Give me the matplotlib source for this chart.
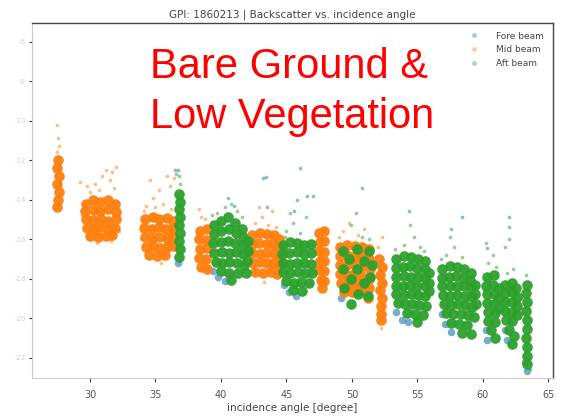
import matplotlib
matplotlib.use("Agg")
import matplotlib.pyplot as plt
from matplotlib.lines import Line2D

# backscatter (dB) vs incidence angle (deg), one list of (angle, sigma0) per beam
fore_core = [(36.75, -17.2), (39.4, -17.6), (39.8, -17.9), (40.3, -18.1), (44.8, -18.3),
             (45.2, -18.7), (45.7, -18.9), (49.2, -19.0), (53.4, -19.7), (53.8, -20.1),
             (54.3, -20.2), (56.9, -19.8), (57.1, -20.3), (57.6, -20.7), (60.2, -20.6),
             (60.3, -21.1), (61.7, -20.6), (61.8, -21.1), (63.25, -22.2), (63.35, -22.7)]
fore_stray = [(46.0, -12.4), (50.8, -13.4), (54.35, -14.6), (58.4, -14.9), (57.6, -15.5),
              (62.0, -14.9), (62.0, -15.4), (60.3, -16.45), (45.8, -14.0), (46.6, -13.8),
              (47.0, -13.8), (45.6, -14.6), (43.5, -14.4), (43.4, -12.85), (36.5, -12.5),
              (36.7, -12.5), (43.2, -12.9), (40.5, -13.9), (41.0, -14.3)]

mid_core = [
    # 27.5 deg
    (27.55, -12.0), (27.5, -12.4), (27.6, -12.8), (27.5, -13.2), (27.6, -13.6),
    (27.55, -14.0), (27.5, -14.4),
    # 29.5 - 32.2 deg
    (29.7, -14.2), (30.2, -14.0), (30.8, -14.1), (31.4, -14.0), (31.9, -14.2),
    (29.6, -14.6), (30.3, -14.55), (30.8, -14.6), (31.35, -14.5), (32.0, -14.65),
    (29.7, -15.0), (30.25, -15.05), (30.85, -15.0), (31.4, -15.1), (31.95, -15.0),
    (29.75, -15.45), (30.3, -15.5), (30.8, -15.4), (31.35, -15.5), (31.9, -15.45),
    (30.0, -15.85), (30.6, -15.9), (31.2, -15.85), (31.7, -15.8),
    # 34 - 36.5 deg
    (34.2, -15.0), (34.8, -14.9), (35.3, -15.0), (35.85, -14.95), (36.3, -15.1),
    (34.15, -15.45), (34.7, -15.5), (35.3, -15.4), (35.8, -15.5), (36.35, -15.45),
    (34.2, -15.9), (34.75, -15.95), (35.3, -15.9), (35.85, -15.95), (36.3, -15.9),
    (34.25, -16.4), (34.8, -16.35), (35.35, -16.45), (35.9, -16.4), (36.3, -16.35),
    (34.5, -16.8), (35.1, -16.85), (35.7, -16.8),
    # 38.2 - 39.2 deg
    (38.4, -15.6), (38.9, -15.5), (38.35, -16.0), (38.85, -16.05), (38.4, -16.5),
    (38.9, -16.45), (38.35, -16.95), (38.85, -17.0), (38.45, -17.4), (38.9, -17.5),
    # 42.2 - 44.5 deg
    (42.4, -15.8), (42.95, -15.7), (43.5, -15.75), (44.05, -15.8), (44.4, -16.0),
    (42.35, -16.25), (42.9, -16.2), (43.5, -16.25), (44.0, -16.2), (44.4, -16.4),
    (42.4, -16.7), (42.95, -16.75), (43.45, -16.7), (44.0, -16.7), (44.4, -16.85),
    (42.45, -17.2), (43.0, -17.15), (43.5, -17.2), (44.0, -17.2), (44.4, -17.3),
    (42.6, -17.65), (43.2, -17.7), (43.8, -17.65), (44.3, -17.75),
    # 47.3 - 48.1 deg
    (47.5, -15.7), (47.9, -15.6), (47.55, -16.15), (47.9, -16.1), (47.5, -16.6),
    (47.9, -16.65), (47.55, -17.1), (47.9, -17.1), (47.5, -17.55), (47.9, -17.6),
    (47.6, -18.05), (47.9, -18.1), (47.7, -18.5),
    # 49 - 51.8 deg
    (49.1, -16.4), (49.65, -16.3), (50.2, -16.35), (50.75, -16.4), (51.3, -16.5),
    (49.05, -16.85), (49.6, -16.8), (50.2, -16.85), (50.7, -16.8), (51.3, -17.0),
    (49.1, -17.3), (49.65, -17.3), (50.2, -17.25), (50.75, -17.35), (51.35, -17.5),
    (49.1, -17.75), (49.6, -17.8), (50.15, -17.75), (50.7, -17.8), (51.3, -18.0),
    (49.2, -18.2), (49.7, -18.25), (50.25, -18.2), (50.8, -18.25), (51.3, -18.5),
    (49.4, -18.7), (50.0, -18.7), (50.6, -18.65), (51.25, -19.0),
    # 52.2 deg
    (52.1, -17.0), (52.3, -17.4), (52.15, -17.8), (52.3, -18.2), (52.15, -18.6),
    (52.3, -19.0), (52.2, -19.4), (52.25, -19.8), (52.2, -20.1),
]
mid_stray = [(27.5, -10.2), (27.55, -10.9), (27.6, -11.3), (27.5, -11.6),
             (30.0, -13.6), (30.4, -13.2), (30.9, -12.8), (31.2, -12.5), (31.5, -13.0),
             (30.7, -13.5), (31.8, -13.4), (29.8, -13.3), (31.0, -13.9), (32.2, -15.6),
             (29.4, -14.8), (30.5, -16.2), (31.6, -16.1), (29.2, -13.1), (31.7, -12.6),
             (32.0, -12.35), (34.3, -14.3), (34.8, -13.9), (35.3, -13.5), (35.6, -14.2),
             (36.1, -13.3), (34.6, -13.0), (35.9, -12.8), (36.2, -14.5), (34.1, -14.6),
             (35.0, -14.4), (33.9, -16.0), (35.4, -17.2), (36.4, -12.9), (38.5, -14.9),
             (38.3, -14.5), (38.8, -15.0), (42.6, -15.2), (43.1, -14.9), (43.6, -15.3),
             (43.9, -14.6), (42.9, -14.4), (44.2, -15.4), (43.3, -18.15), (49.3, -15.6),
             (49.8, -15.2), (50.5, -15.8), (49.0, -15.9), (50.9, -15.5), (52.0, -16.4),
             (52.3, -15.9), (52.2, -20.5)]

aft_core = [
    # 36.8 deg
    (36.8, -13.7), (36.85, -14.1), (36.8, -14.5), (36.85, -14.9), (36.8, -15.3),
    (36.85, -15.7), (36.8, -16.1), (36.85, -16.5), (36.8, -16.9),
    # 39.2 - 42.2 deg
    (39.5, -15.3), (40.0, -15.1), (40.55, -14.9), (41.1, -15.2), (41.6, -15.5),
    (39.45, -15.75), (40.0, -15.6), (40.6, -15.5), (41.15, -15.7), (41.7, -15.9), (42.05, -16.1),
    (39.4, -16.2), (40.0, -16.15), (40.55, -16.1), (41.1, -16.2), (41.7, -16.3), (42.05, -16.6),
    (39.45, -16.7), (40.05, -16.65), (40.6, -16.7), (41.15, -16.65), (41.7, -16.75), (42.0, -17.1),
    (39.6, -17.15), (40.1, -17.2), (40.65, -17.15), (41.2, -17.2), (41.75, -17.3),
    (40.0, -17.6), (40.6, -17.7), (41.3, -17.7), (41.9, -17.7), (40.8, -18.05),
    # 44.5 - 47.3 deg
    (44.7, -16.3), (45.25, -16.15), (45.8, -16.2), (46.35, -16.3), (46.9, -16.25),
    (44.65, -16.75), (45.2, -16.7), (45.8, -16.65), (46.35, -16.75), (46.9, -16.7),
    (44.7, -17.2), (45.25, -17.25), (45.8, -17.2), (46.35, -17.2), (46.9, -17.25),
    (44.75, -17.65), (45.3, -17.7), (45.85, -17.65), (46.4, -17.7), (46.95, -17.7),
    (45.0, -18.1), (45.55, -18.2), (46.1, -18.15), (46.7, -18.2),
    (45.5, -18.6), (46.2, -18.65),
    # 49 - 51.7 deg
    (49.3, -16.6), (50.4, -16.5), (51.3, -16.6), (49.8, -17.0), (50.9, -17.1),
    (51.5, -17.3), (49.3, -17.5), (50.4, -17.5), (51.4, -17.9), (49.9, -18.0),
    (50.9, -18.2), (49.4, -18.5), (50.5, -18.8), (51.2, -18.9), (49.9, -19.3),
    # 53.1 - 56 deg
    (53.4, -17.0), (53.95, -16.85), (54.5, -16.9), (55.05, -17.0), (55.6, -17.1),
    (53.35, -17.45), (53.9, -17.4), (54.45, -17.35), (55.0, -17.45), (55.55, -17.5), (55.9, -17.7),
    (53.4, -17.9), (53.95, -17.85), (54.5, -17.9), (55.05, -17.9), (55.6, -17.95), (55.9, -18.2),
    (53.35, -18.35), (53.9, -18.35), (54.45, -18.3), (55.0, -18.35), (55.55, -18.4), (55.9, -18.65),
    (53.4, -18.8), (53.95, -18.85), (54.5, -18.8), (55.05, -18.85), (55.6, -18.9),
    (53.5, -19.25), (54.05, -19.3), (54.6, -19.3), (55.15, -19.35), (55.65, -19.4),
    (54.2, -19.75), (54.8, -19.8), (55.4, -19.85), (55.0, -20.2),
    # 56.7 - 59.5 deg
    (56.9, -17.5), (57.45, -17.35), (58.0, -17.4), (58.55, -17.5), (59.1, -17.7),
    (56.85, -17.95), (57.4, -17.9), (57.95, -17.85), (58.5, -17.95), (59.05, -18.05), (59.4, -18.3),
    (56.9, -18.4), (57.45, -18.4), (58.0, -18.35), (58.55, -18.4), (59.1, -18.5), (59.4, -18.8),
    (56.95, -18.85), (57.5, -18.9), (58.05, -18.85), (58.6, -18.9), (59.15, -18.95), (59.45, -19.3),
    (57.0, -19.3), (57.55, -19.35), (58.1, -19.3), (58.65, -19.35), (59.2, -19.45),
    (57.2, -19.75), (57.75, -19.8), (58.3, -19.8), (58.85, -19.85), (59.3, -19.95),
    (57.6, -20.25), (58.2, -20.3), (58.8, -20.35), (58.4, -20.75), (59.1, -20.8),
    # 60 - 61.3 deg
    (60.3, -17.9), (60.85, -17.8), (60.25, -18.35), (60.8, -18.3), (61.2, -18.5),
    (60.3, -18.8), (60.85, -18.8), (61.2, -19.0), (60.3, -19.25), (60.85, -19.3),
    (61.2, -19.5), (60.35, -19.7), (60.9, -19.75), (60.4, -20.15), (60.95, -20.2),
    (60.6, -20.6), (60.9, -21.0),
    # 61.5 - 62.7 deg
    (61.7, -18.3), (62.25, -18.2), (62.55, -18.5), (61.65, -18.75), (62.2, -18.7),
    (62.6, -18.95), (61.7, -19.2), (62.2, -19.2), (62.6, -19.4), (61.7, -19.65),
    (62.2, -19.7), (62.6, -19.85), (61.75, -20.1), (62.25, -20.15), (62.0, -20.6),
    (62.4, -20.9), (62.2, -21.3),
    # 63.4 deg
    (63.35, -18.3), (63.3, -18.75), (63.4, -19.2), (63.3, -19.65), (63.4, -20.1),
    (63.35, -20.55), (63.3, -21.0), (63.4, -21.45), (63.35, -21.9), (63.4, -22.3),
]
aft_stray = [(36.8, -12.8), (36.9, -13.2), (36.6, -12.7), (40.3, -14.4), (40.8, -14.2),
             (41.2, -14.6), (39.7, -14.7), (41.6, -14.9), (39.3, -14.8), (45.0, -15.6),
             (45.5, -15.2), (46.0, -15.7), (46.5, -14.9), (45.3, -14.7), (44.9, -15.9),
             (49.9, -15.3), (50.3, -14.7), (51.3, -16.0), (50.8, -15.9), (54.0, -16.3),
             (54.7, -15.9), (55.2, -16.4), (53.3, -16.5), (54.4, -15.3), (55.5, -16.6),
             (57.2, -16.8), (57.8, -16.4), (58.4, -16.9), (57.5, -15.9), (56.8, -17.0),
             (60.4, -17.2), (60.8, -16.8), (60.2, -16.2), (61.0, -17.4), (61.8, -17.7),
             (62.3, -17.5), (61.7, -16.4), (62.0, -16.0), (63.3, -17.8), (63.0, -19.0),
             (63.6, -22.6)]

beams = ["Fore beam", "Mid beam", "Aft beam"]
colors = ["#1f77b4", "#ff7f0e", "#2ca02c"]
core_size = [30, 58, 58]
core_alpha = [0.6, 0.95, 0.95]
y_ticks = [-6, -8, -10, -12, -14, -16, -18, -20, -22]
x_ticks = [30, 35, 40, 45, 50, 55, 60, 65]

fig = plt.figure(figsize=(5.63, 4.19), dpi=100)
ax = fig.add_axes([0.0568, 0.098, 0.9252, 0.848])

beam_data = [(fore_core, fore_stray), (mid_core, mid_stray), (aft_core, aft_stray)]
for (core, stray), c, s, a in zip(beam_data, colors, core_size, core_alpha):
    xs, ys = zip(*stray)
    ax.scatter(xs, ys, s=7, color=c, alpha=0.5, linewidths=0)
    xs, ys = zip(*core)
    ax.scatter(xs, ys, s=s, color=c, alpha=a, linewidths=0)

ax.set_xlim(25.57, 65.34)
ax.set_ylim(-23.03, -5.04)
ax.set_xticks(x_ticks)
ax.set_yticks(y_ticks)
ax.set_yticklabels([str(v) for v in y_ticks], fontsize=5, color="#d0d0d0")
ax.tick_params(axis="x", labelsize=7, labelcolor="#555555", length=3, width=0.8,
               color="#444444", pad=6)
ax.tick_params(axis="y", length=2.5, width=0.8, color="#333333", pad=2)

for side in ["top", "right"]:
    ax.spines[side].set_color("#444444")
    ax.spines[side].set_linewidth(1.0)
for side in ["left", "bottom"]:
    ax.spines[side].set_color("#cccccc")
    ax.spines[side].set_linewidth(0.8)

ax.set_title("GPI: 1860213 | Backscatter vs. incidence angle", fontsize=7.5,
             color="#444444", pad=4)
ax.set_xlabel("incidence angle [degree]", fontsize=7.5, color="#444444", labelpad=2)

handles = [Line2D([], [], ls="", marker="o", ms=2.5, color=c, alpha=0.3) for c in colors]
ax.legend(handles, beams, loc="upper right", fontsize=6.5, frameon=False,
          labelcolor="#444444", handletextpad=1.4, borderaxespad=0.6)

fig.text(0.2664, 0.8138, "Bare Ground &", fontsize=30, color="red",
         family="Liberation Sans", va="baseline")
fig.text(0.2664, 0.6945, "Low Vegetation", fontsize=30, color="red",
         family="Liberation Sans", va="baseline")

fig.savefig("out.png", dpi=100)
